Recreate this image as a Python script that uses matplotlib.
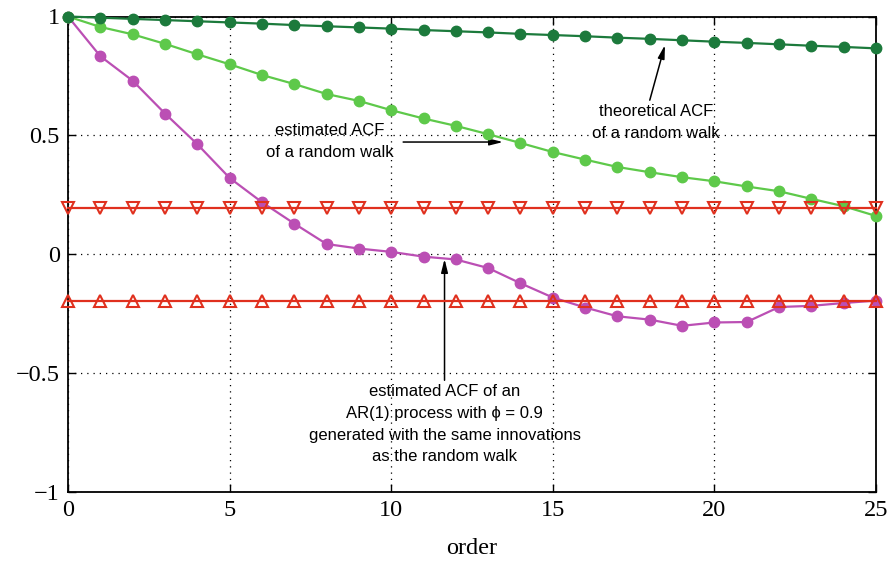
import matplotlib
matplotlib.use("Agg")
import matplotlib.pyplot as plt
import numpy as np

order = list(range(26))
theoretical_rw = [1.0, 0.995, 0.990, 0.985, 0.980, 0.975, 0.970, 0.964, 0.959, 0.954,
                  0.949, 0.943, 0.938, 0.933, 0.927, 0.922, 0.917, 0.911, 0.906, 0.900,
                  0.894, 0.889, 0.883, 0.877, 0.872, 0.866]
estimated_rw = [1.0, 0.956, 0.925, 0.885, 0.841, 0.799, 0.754, 0.716, 0.674, 0.645,
                0.606, 0.571, 0.540, 0.505, 0.468, 0.430, 0.398, 0.367, 0.345, 0.324,
                0.307, 0.285, 0.265, 0.233, 0.202, 0.161]
estimated_ar1 = [1.0, 0.833, 0.730, 0.592, 0.463, 0.321, 0.219, 0.129, 0.043, 0.024,
                 0.010, -0.010, -0.022, -0.058, -0.122, -0.182, -0.224, -0.261, -0.275, -0.301,
                 -0.287, -0.285, -0.222, -0.217, -0.205, -0.195]
conf_upper = [0.196] * 26
conf_lower = [-0.196] * 26

xticks = [0, 5, 10, 15, 20, 25]
yticks = [-1, -0.5, 0, 0.5, 1]
yticklabels = ["\u22121", "\u22120.5", "0", "0.5", "1"]

fig = plt.figure(figsize=(8.91, 5.64), dpi=100)
ax = fig.add_axes([68/891, 1 - 492/564, (876-68)/891, (492-16.5)/564])

c_dark = "#1c7a3c"
c_light = "#5ec94a"
c_purple = "#bb4fb4"
c_red = "#e0301e"

ax.plot(order, estimated_ar1, color=c_purple, lw=1.6, marker="o", ms=7.5, zorder=3, clip_on=False)
ax.plot(order, estimated_rw, color=c_light, lw=1.6, marker="o", ms=7.5, zorder=4, clip_on=False)
ax.plot(order, theoretical_rw, color=c_dark, lw=1.6, marker="o", ms=7.5, zorder=5, clip_on=False)
ax.plot(order, conf_upper, color=c_red, lw=1.6, marker="v", ms=9, mfc="none", mew=1.5, zorder=6, clip_on=False)
ax.plot(order, conf_lower, color=c_red, lw=1.6, marker="^", ms=9, mfc="none", mew=1.5, zorder=6, clip_on=False)

ax.set_xlim(0, 25)
ax.set_ylim(-1, 1)
ax.set_xticks(xticks)
ax.set_yticks(yticks)
ax.set_yticklabels(yticklabels)

serif = ["Liberation Serif", "DejaVu Serif"]
for lab in ax.get_xticklabels() + ax.get_yticklabels():
    lab.set_family(serif)
    lab.set_fontsize(17.5)

ax.tick_params(direction="in", length=6, width=1, top=True, right=True, pad=6)
ax.grid(True, color="black", linestyle=(0, (1, 4)), linewidth=0.9)
for sp in ax.spines.values():
    sp.set_linewidth(1.3)

ax.set_xlabel("order", family=serif, fontsize=17.5, labelpad=12)

sans = ["Liberation Sans", "DejaVu Sans"]
arrow = dict(arrowstyle="-|>,head_length=0.8,head_width=0.2", color="black", lw=1.1, shrinkA=0, shrinkB=0)

ax.text(18.2, 0.555, "theoretical ACF\nof a random walk", ha="center", va="center",
        fontsize=12, family=sans, linespacing=1.55)
ax.annotate("", xy=(18.47, 0.88), xytext=(18.0, 0.648), arrowprops=arrow)

ax.text(8.1, 0.475, "estimated ACF\nof a random walk", ha="center", va="center",
        fontsize=12, family=sans, linespacing=1.55)
ax.annotate("", xy=(13.46, 0.472), xytext=(10.37, 0.472), arrowprops=arrow)

ax.text(11.65, -0.715, "estimated ACF of an\nAR(1) process with \u03d5 = 0.9\ngenerated with the same innovations\nas the random walk",
        ha="center", va="center", fontsize=12, family=sans, linespacing=1.55)
ax.annotate("", xy=(11.65, -0.02), xytext=(11.65, -0.53), arrowprops=arrow)

fig.savefig("out.png", dpi=100)
